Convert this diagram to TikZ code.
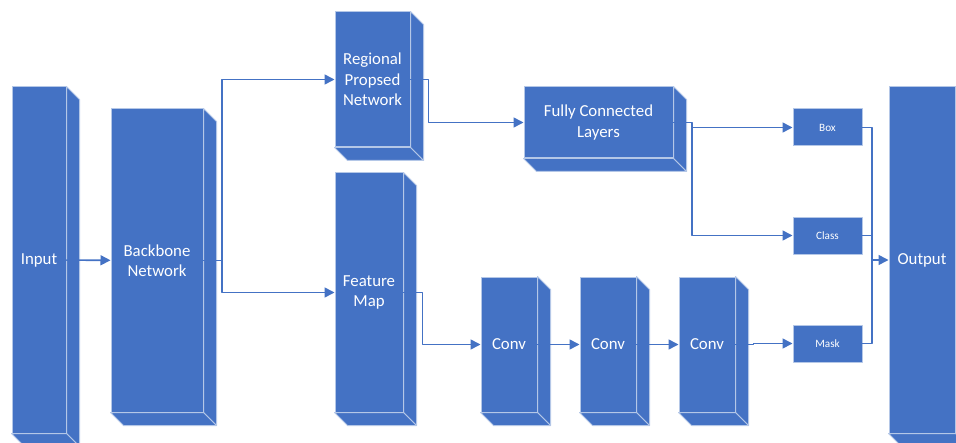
\documentclass[tikz,border=0pt]{standalone}
\usepackage{fontspec}
\setmainfont{Carlito}
\usetikzlibrary{calc}
\usetikzlibrary{arrows.meta}
\definecolor{blockblue}{HTML}{4472C4}
\definecolor{edgeblue}{HTML}{B4C7E7}

\begin{document}
\begin{tikzpicture}[x=0.5pt, y=-0.5pt, line cap = round, line join = round, >={Triangle[length=5pt,width=5pt]}]
\tikzstyle{block}=[fill=blockblue, draw=edgeblue, line width=0.5pt, text=white, inner sep=0pt, align=center, font=\fontsize{8.4}{10.2}\selectfont]
\tikzstyle{head}=[block, font=\fontsize{5.6}{7}\selectfont]
\tikzstyle{face}=[fill=blockblue, draw=edgeblue, line width=0.5pt]
\tikzstyle{link}=[draw=blockblue, line width=0.8pt]
\clip (0,0) rectangle (956,443);

% front faces
\node[block, minimum width=27pt, minimum height=173pt] (input) at (39,260) {Input};
\node[block, minimum width=46pt, minimum height=151.5pt] (backbone) at (157,260.5) {Backbone\\Network};
\node[block, minimum width=37.5pt, minimum height=67.5pt] (rpn) at (372.5,79.5) {Regional\\Propsed\\Network};
\node[block, minimum width=34pt, minimum height=119.5pt] (fmap) at (369,292.5) {Feature\\Map};
\node[block, minimum width=74.5pt, minimum height=35.5pt] (fc) at (598.5,122.5) {Fully Connected\\Layers};
\node[block, minimum width=28pt, minimum height=67.5pt] (conv1) at (509,344.5) {Conv};
\node[block, minimum width=28pt, minimum height=67.5pt] (conv2) at (608,344.5) {Conv};
\node[block, minimum width=28pt, minimum height=67.5pt] (conv3) at (707,344.5) {Conv};
\node[head, minimum width=34.5pt, minimum height=18.5pt] (box) at (827.5,127.5) {Box};
\node[head, minimum width=34.5pt, minimum height=18.5pt] (class) at (827.5,235.5) {Class};
\node[head, minimum width=34.5pt, minimum height=18.5pt] (mask) at (827.5,343.5) {Mask};
\node[block, minimum width=33pt, minimum height=173pt] (output) at (922,260) {Output};

% side and bottom faces
\foreach \n in {input,backbone,rpn,fmap,fc,conv1,conv2,conv3,output}{
  \filldraw[face] (\n.north east) -- ++(13,13) -- ($(\n.south east)+(13,13)$) -- (\n.south east) -- cycle;
  \filldraw[face] (\n.south west) -- (\n.south east) -- ($(\n.south east)+(13,13)$) -- ($(\n.south west)+(13,13)$) -- cycle;
}

\coordinate (split1) at (222,260.5);
\coordinate (split2) at (692,127.5);
\coordinate (merge) at (872,260);

\draw[link,->] (input) -- (backbone);
\draw[link] (backbone.east) -- (split1);
\draw[link,->] (split1) |- (rpn.west);
\draw[link,->] (split1) |- (fmap.west);
\draw[link,->] (rpn.east) -- ++(18,0) |- (fc.west);
\draw[link] (fc.east) -- (fc.east -| split2) -- (split2);
\draw[link,->] (split2) -- (box.west);
\draw[link,->] (split2) |- (class.west);
\draw[link,->] (fmap.east) -- ++(19,0) |- (conv1.west);
\draw[link,->] (conv1) -- (conv2);
\draw[link,->] (conv2) -- (conv3);
\draw[link,->] (conv3.east) -- ++(18,0) |- (mask.west);
\draw[link] (box.east) -| (merge);
\draw[link] (class.east) -| (merge);
\draw[link] (mask.east) -| (merge);
\draw[link,->] (merge) -- (output.west);
\end{tikzpicture}
\end{document}
